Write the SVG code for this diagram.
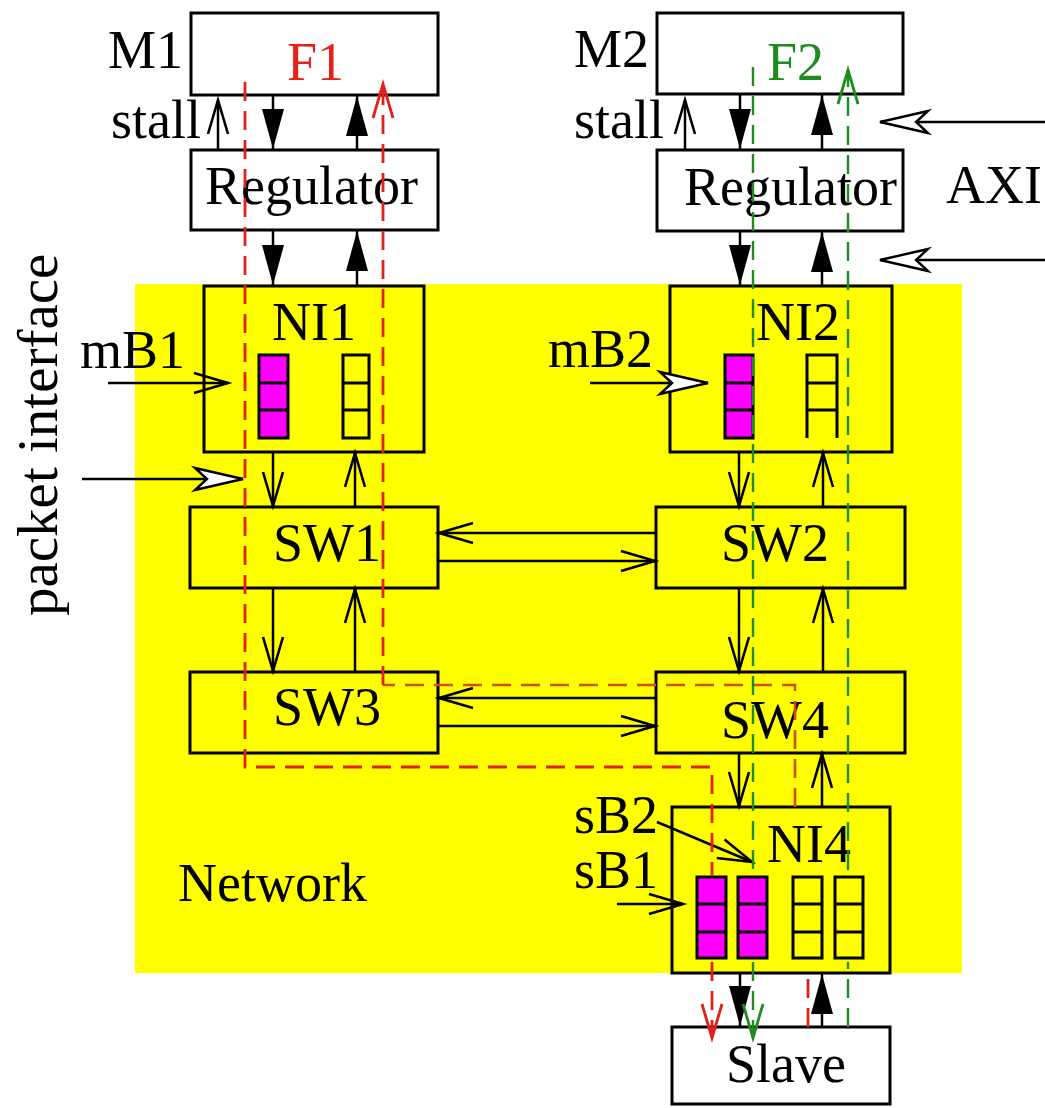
<svg xmlns="http://www.w3.org/2000/svg" width="1045" height="1108" viewBox="0 0 1045 1108">
<style>
.box{fill:#fff;stroke:#000;stroke-width:3}
.ybox{fill:#ff0;stroke:#000;stroke-width:3}
.buf{fill:#f0f;stroke:#000;stroke-width:3}
.ebuf{fill:#ff0;stroke:#000;stroke-width:3}
.t{font-family:"Liberation Serif","Times New Roman",serif;font-size:54px;fill:#000}
.ln{stroke:#000;stroke-width:2.5;fill:none}
.dv{stroke:#000;stroke-width:3;fill:none}
.rd{stroke:#e0201a;stroke-width:2.8;stroke-dasharray:19 10;fill:none}
.ro{stroke:#d0501a;stroke-width:2.6;stroke-dasharray:19 10;fill:none}
.gd{stroke:#1e8c1e;stroke-width:2.4;stroke-dasharray:19 10;fill:none}
</style>
<defs>
<marker id="vb" markerUnits="userSpaceOnUse" markerWidth="40" markerHeight="24" refX="34" refY="10" orient="auto" overflow="visible"><path d="M0,0 L34,10 L0,20" fill="none" stroke="#000" stroke-width="2.6"/></marker>
<marker id="fb" markerUnits="userSpaceOnUse" markerWidth="44" markerHeight="24" refX="40" refY="11" orient="auto" overflow="visible"><path d="M0,0 L40,11 L0,22 z" fill="#000"/></marker>
<marker id="hb" markerUnits="userSpaceOnUse" markerWidth="52" markerHeight="26" refX="48" refY="11" orient="auto" overflow="visible"><path d="M0,0 L48,11 L0,22 L12,11 z" fill="#fff" stroke="#000" stroke-width="2.4"/></marker>
<marker id="vr" markerUnits="userSpaceOnUse" markerWidth="40" markerHeight="24" refX="34" refY="10" orient="auto" overflow="visible"><path d="M0,0 L34,10 L0,20" fill="none" stroke="#e0201a" stroke-width="2.8"/></marker>
<marker id="vg" markerUnits="userSpaceOnUse" markerWidth="40" markerHeight="24" refX="34" refY="10" orient="auto" overflow="visible"><path d="M0,0 L34,10 L0,20" fill="none" stroke="#1e8c1e" stroke-width="2.8"/></marker>
</defs>
<rect width="1045" height="1108" fill="#fff"/>
<g id="network">
<rect x="135" y="284" width="827" height="689" fill="#ff0"/>
<text class="t" x="178" y="901">Network</text>
</g>
<text class="t" transform="translate(57,616) rotate(-90)" style="font-size:57px">packet interface</text>
<text class="t" x="946" y="203">AXI</text>

<g id="M1"><rect class="box" x="191" y="13" width="247" height="82"/><text class="t" x="108" y="68">M1</text></g>
<g id="Reg1"><rect class="box" x="191" y="150" width="247" height="80"/><text class="t" x="205" y="204">Regulator</text></g>
<g id="M2"><rect class="box" x="657" y="13" width="246" height="81"/><text class="t" x="574" y="67">M2</text></g>
<g id="Reg2"><rect class="box" x="657" y="150" width="246" height="81"/><text class="t" x="684" y="205">Regulator</text></g>
<g id="NI1"><rect class="ybox" x="204" y="286" width="220" height="166"/><text class="t" x="272" y="340">NI1</text>
<rect class="buf" x="259" y="355" width="29" height="83"/><path class="dv" d="M259,383 H288 M259,410 H288"/>
<rect class="ebuf" x="343" y="355" width="26" height="83"/><path class="dv" d="M343,383 H369 M343,410 H369"/></g>
<g id="NI2"><rect class="ybox" x="670" y="286" width="222" height="166"/><text class="t" x="756" y="340">NI2</text>
<rect class="buf" x="725" y="355" width="28" height="83"/><path class="dv" d="M725,383 H753 M725,410 H753"/>
<path class="dv" d="M807,438 V355 H837 V438 M807,383 H837 M807,410 H837"/></g>
<g id="SW1"><rect class="ybox" x="190" y="507" width="248" height="81"/><text class="t" x="273" y="561">SW1</text></g>
<g id="SW2"><rect class="ybox" x="656" y="507" width="249" height="81"/><text class="t" x="721" y="561">SW2</text></g>
<g id="SW3"><rect class="ybox" x="190" y="672" width="248" height="81"/><text class="t" x="273" y="725">SW3</text></g>
<g id="SW4"><rect class="ybox" x="656" y="672" width="249" height="81"/><text class="t" x="721" y="738">SW4</text></g>
<g id="NI4"><rect class="ybox" x="672" y="807" width="218" height="166"/><text class="t" x="767" y="862">NI4</text>
<rect class="buf" x="697" y="877" width="29" height="81"/><path class="dv" d="M697,904 H726 M697,932 H726"/>
<rect class="buf" x="738" y="877" width="29" height="81"/><path class="dv" d="M738,904 H767 M738,932 H767"/>
<rect class="ebuf" x="793" y="877" width="29" height="81"/><path class="dv" d="M793,904 H822 M793,932 H822"/>
<rect class="ebuf" x="835" y="877" width="28" height="81"/><path class="dv" d="M835,904 H863 M835,932 H863"/></g>
<g id="Slave"><rect class="box" x="672" y="1027" width="218" height="77"/><text class="t" x="726" y="1082">Slave</text></g>
<g id="labels">
<text class="t" x="111" y="138">stall</text>
<text class="t" x="574" y="138">stall</text>
<text class="t" x="80" y="368">mB1</text>
<text class="t" x="548" y="367">mB2</text>
<text class="t" x="574" y="833">sB2</text>
<text class="t" x="574" y="888">sB1</text>
<text class="t" x="287" y="80" style="fill:#e8201a">F1</text>
<text class="t" x="767" y="80" style="fill:#1e8c1e">F2</text>
</g>

<g id="connectors">
<line class="ln" x1="218" y1="150" x2="218" y2="100" marker-end="url(#vb)"/>
<line class="ln" x1="273" y1="95" x2="273" y2="149" marker-end="url(#fb)"/>
<line class="ln" x1="357" y1="150" x2="357" y2="96" marker-end="url(#fb)"/>
<line class="ln" x1="273" y1="230" x2="273" y2="285" marker-end="url(#fb)"/>
<line class="ln" x1="357" y1="286" x2="357" y2="231" marker-end="url(#fb)"/>
<line class="ln" x1="273" y1="452" x2="273" y2="506" marker-end="url(#vb)"/>
<line class="ln" x1="355" y1="507" x2="355" y2="453" marker-end="url(#vb)"/>
<line class="ln" x1="273" y1="588" x2="273" y2="671" marker-end="url(#vb)"/>
<line class="ln" x1="355" y1="672" x2="355" y2="589" marker-end="url(#vb)"/>
<line class="ln" x1="656" y1="533" x2="439" y2="533" marker-end="url(#vb)"/>
<line class="ln" x1="438" y1="561" x2="655" y2="561" marker-end="url(#vb)"/>
<line class="ln" x1="656" y1="698" x2="439" y2="698" marker-end="url(#vb)"/>
<line class="ln" x1="438" y1="726" x2="655" y2="726" marker-end="url(#vb)"/>
<line class="ln" x1="685" y1="150" x2="685" y2="100" marker-end="url(#vb)"/>
<line class="ln" x1="740" y1="94" x2="740" y2="149" marker-end="url(#fb)"/>
<line class="ln" x1="822" y1="150" x2="822" y2="95" marker-end="url(#fb)"/>
<line class="ln" x1="740" y1="231" x2="740" y2="285" marker-end="url(#fb)"/>
<line class="ln" x1="822" y1="286" x2="822" y2="232" marker-end="url(#fb)"/>
<line class="ln" x1="739" y1="452" x2="739" y2="506" marker-end="url(#vb)"/>
<line class="ln" x1="823" y1="507" x2="823" y2="453" marker-end="url(#vb)"/>
<line class="ln" x1="739" y1="588" x2="739" y2="671" marker-end="url(#vb)"/>
<line class="ln" x1="823" y1="672" x2="823" y2="589" marker-end="url(#vb)"/>
<line class="ln" x1="739" y1="753" x2="739" y2="806" marker-end="url(#vb)"/>
<line class="ln" x1="822" y1="807" x2="822" y2="754" marker-end="url(#vb)"/>
<line class="ln" x1="740" y1="973" x2="740" y2="1026" marker-end="url(#fb)"/>
<line class="ln" x1="822" y1="1027" x2="822" y2="974" marker-end="url(#fb)"/>
<line class="ln" x1="1045" y1="122" x2="880" y2="122" marker-end="url(#hb)"/>
<line class="ln" x1="1045" y1="260" x2="880" y2="260" marker-end="url(#hb)"/>
<line class="ln" x1="82" y1="479" x2="243" y2="479" marker-end="url(#hb)"/>
<line class="ln" x1="108" y1="383" x2="228" y2="383" marker-end="url(#vb)"/>
<line class="ln" x1="590" y1="383" x2="708" y2="383" marker-end="url(#hb)"/>
<line class="ln" x1="657" y1="822" x2="752" y2="862" marker-end="url(#vb)"/>
<line class="ln" x1="617" y1="904" x2="683" y2="904" marker-end="url(#vb)"/>
</g>

<g id="flows">
<path class="rd" d="M245,82 V767 H712 V875 M712,962 V1038" marker-end="url(#vr)"/>
<path class="rd" d="M808,1027 V973"/>
<path class="ro" d="M795,807 V685 H383"/>
<path class="rd" d="M383,685 V84" marker-end="url(#vr)"/>
<path class="gd" d="M753,67 V870 M753,962 V1038" marker-end="url(#vg)"/>
<path class="gd" d="M848,1027 V962 M848,870 V70" marker-end="url(#vg)"/>
</g>
</svg>
